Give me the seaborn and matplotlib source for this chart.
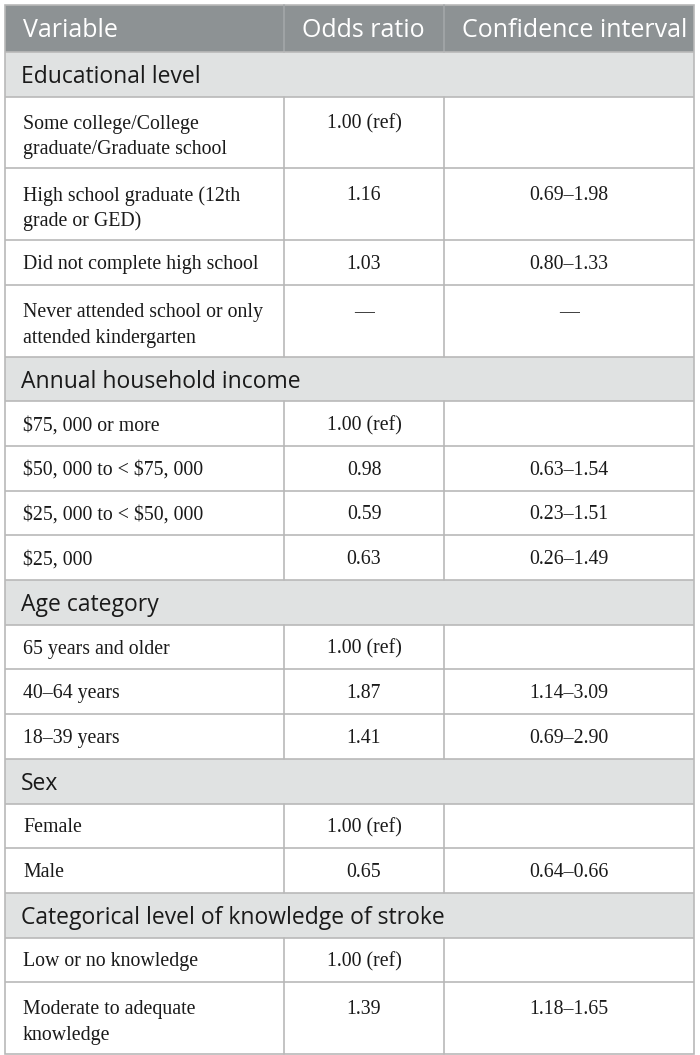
import matplotlib.pyplot as plt
import seaborn as sns
from matplotlib.patches import Rectangle

# table content
header = ["Variable", "Odds ratio", "Confidence interval"]
sections = [
    "Educational level",
    "Annual household income",
    "Age category",
    "Sex",
    "Categorical level of knowledge of stroke",
]
variables = [
    ["Some college/College\ngraduate/Graduate school",
     "High school graduate (12th\ngrade or GED)",
     "Did not complete high school",
     "Never attended school or only\nattended kindergarten"],
    ["$75, 000 or more", "$50, 000 to < $75, 000",
     "$25, 000 to < $50, 000", "$25, 000"],
    ["65 years and older", "40–64 years", "18–39 years"],
    ["Female", "Male"],
    ["Low or no knowledge", "Moderate to adequate\nknowledge"],
]
odds_ratio = [
    ["1.00 (ref)", "1.16", "1.03", "—"],
    ["1.00 (ref)", "0.98", "0.59", "0.63"],
    ["1.00 (ref)", "1.87", "1.41"],
    ["1.00 (ref)", "0.65"],
    ["1.00 (ref)", "1.39"],
]
conf_int = [
    ["", "0.69–1.98", "0.80–1.33", "—"],
    ["", "0.63–1.54", "0.23–1.51", "0.26–1.49"],
    ["", "1.14–3.09", "0.69–2.90"],
    ["", "0.64–0.66"],
    ["", "1.18–1.65"],
]

sns.set_theme(style="white")
plt.rcParams["font.family"] = ["DejaVu Sans"]

HEADER_BG = "#8d9294"
SECTION_BG = "#e0e2e2"
GRID = "#b9b9b9"
TEXT = "#1a1a1a"
SANS = ["Open Sans", "DejaVu Sans"]
SERIF = ["Liberation Serif", "DejaVu Serif"]

x_left, x_col1, x_col2, x_right = 5, 284, 444, 694
y_top = 5
h_header, h_section, h_single, line_gap = 47, 44.7, 44.7, 25.7

fig = plt.figure(figsize=(7, 10.55), dpi=100)
ax = fig.add_axes([0, 0, 1, 1])
ax.set_xlim(0, 700)
ax.set_ylim(1055, 0)
ax.axis("off")

table_clip = Rectangle((x_left, y_top), x_right - x_left, 1049 - y_top,
                       transform=ax.transData, fill=False, lw=0)
ax.add_patch(table_clip)


def esc(s):
    return s.replace("$", r"\$")


def hline(y):
    ax.plot([x_left, x_right], [y, y], color=GRID, lw=1.2, solid_capstyle="butt")


# header
y = y_top
ax.add_patch(Rectangle((x_left, y), x_right - x_left, h_header, color=HEADER_BG, lw=0))
for xd in (x_col1, x_col2):
    ax.plot([xd, xd], [y, y + h_header], color="#a3a7a9", lw=1.2)
for xt, label in zip((23, x_col1 + 18, x_col2 + 18), header):
    t = ax.text(xt, y + 32, label, color="white", fontsize=18, family=SANS,
                va="baseline")
    t.set_clip_path(table_clip)
y += h_header

body_kw = dict(color=TEXT, fontsize=14.3, family=SERIF, va="center")

for sec, vars_, ors, cis in zip(sections, variables, odds_ratio, conf_int):
    hline(y)
    ax.add_patch(Rectangle((x_left, y), x_right - x_left, h_section, color=SECTION_BG, lw=0))
    ax.text(21, y + 31, sec, color=TEXT, fontsize=16.5, family=SANS, va="baseline")
    y += h_section
    for var, orv, civ in zip(vars_, ors, cis):
        hline(y)
        lines = var.split("\n")
        if len(lines) == 1:
            h = h_single
            y0 = y + h / 2 + 2
        else:
            h = 26 + line_gap * (len(lines) - 1) + 20
            y0 = y + 27.5
        for i, ln in enumerate(lines):
            ax.text(23, y0 + i * line_gap, esc(ln), ha="left", **body_kw)
        ax.text((x_col1 + x_col2) / 2, y0, orv, ha="center", **body_kw)
        ax.text((x_col2 + x_right) / 2, y0, civ, ha="center", **body_kw)
        for xd in (x_col1, x_col2):
            ax.plot([xd, xd], [y, y + h], color=GRID, lw=1.2)
        y += h

# outer border
ax.add_patch(Rectangle((x_left, y_top), x_right - x_left, y - y_top,
                       fill=False, edgecolor=GRID, lw=1.2))

fig.savefig("out.png", dpi=100, facecolor="white")
